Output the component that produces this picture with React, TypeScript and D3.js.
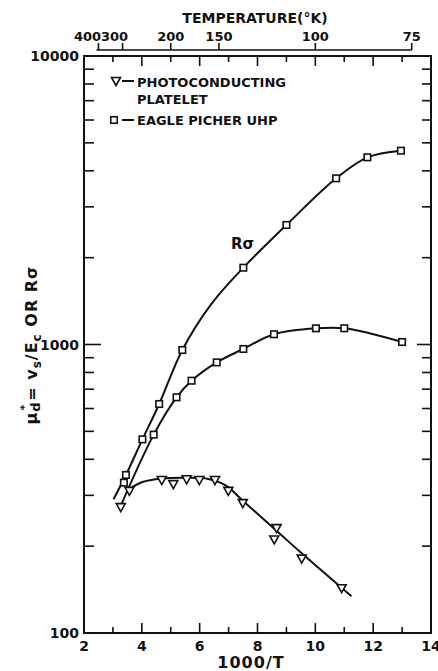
import React, { useEffect, useRef } from 'react';
import * as d3 from 'd3';

// R sigma (upper square curve): markers and drawn curve
const rsigmaX = [3.45, 4.02, 4.6, 5.4, 7.51, 9.0, 10.72, 11.8, 12.96];
const rsigmaY = [353, 469, 622, 957, 1846, 2596, 3767, 4454, 4697];
const rsigmaFitX = [3.02, 3.45, 4.02, 4.6, 5.4, 6.4, 7.51, 9.0, 10.72, 11.8, 12.96];
const rsigmaFitY = [291, 353, 469, 622, 957, 1380, 1846, 2596, 3767, 4454, 4697];

// Eagle Picher UHP (lower square curve)
const eagleX = [3.38, 4.41, 5.2, 5.72, 6.59, 7.51, 8.57, 10.02, 11.0, 13.0];
const eagleY = [332, 487, 656, 749, 867, 965, 1085, 1138, 1138, 1020];
const eagleFitX = [3.27, 4.41, 5.2, 5.72, 6.59, 7.51, 8.57, 10.02, 11.0, 13.0];
const eagleFitY = [276, 487, 656, 749, 867, 965, 1085, 1138, 1138, 1020];

// photoconducting platelet (triangles)
const photoX = [3.27, 3.57, 4.69, 5.09, 5.55, 5.99, 6.53, 6.99, 7.49, 8.66, 8.58, 9.53, 10.91];
const photoY = [273, 311, 339, 328, 341, 339, 339, 311, 282, 231, 211, 181, 143];
const photoFitX = [3.5, 4.0, 4.7, 5.5, 6.3, 6.9, 7.5, 8.6, 9.5, 11.25];
const photoFitY = [312, 333, 343, 345, 342, 325, 287, 229, 190, 134];

const xTicks = [2, 4, 6, 8, 10, 12, 14];
const yTickLabels = ['100', '1000', '10000'];
const tempTicks = [400, 300, 200, 150, 100, 75];

const FONT = '"DejaVu Sans", sans-serif';

export default function App() {
  const ref = useRef<SVGSVGElement>(null);

  useEffect(() => {
    const svg = d3.select(ref.current);
    svg.selectAll('*').remove();

    const x = d3.scaleLinear().domain([2, 14]).range([84, 431]);
    const y = d3.scaleLog().domain([100, 10000]).range([633, 56]);
    const [x0, x1] = x.range();
    const [yb, yt] = y.range();

    const g = svg.append('g').attr('fill', 'none').attr('stroke', '#111');

    // frame
    g.append('rect').attr('x', x0).attr('y', yt).attr('width', x1 - x0).attr('height', yb - yt)
      .attr('stroke-width', 2);

    // x ticks bottom/top
    d3.range(3, 14).forEach(v => {
      const len = v % 2 === 0 ? 10 : 6;
      g.append('line').attr('x1', x(v)).attr('x2', x(v)).attr('y1', yb).attr('y2', yb - len).attr('stroke-width', 1.6);
      g.append('line').attr('x1', x(v)).attr('x2', x(v)).attr('y1', yt).attr('y2', yt + len).attr('stroke-width', 1.6);
    });

    // y ticks left/right
    const yt_vals = [200, 300, 400, 500, 600, 700, 800, 900, 1000, 2000, 3000, 4000, 5000, 6000, 7000, 8000, 9000];
    yt_vals.forEach(v => {
      const major = v === 1000;
      g.append('line').attr('x1', x0).attr('x2', x0 + (major ? 17 : 10)).attr('y1', y(v)).attr('y2', y(v)).attr('stroke-width', 1.6);
      g.append('line').attr('x1', x1).attr('x2', x1 - (major ? 14 : 9)).attr('y1', y(v)).attr('y2', y(v)).attr('stroke-width', 1.6);
    });

    // top temperature bracket
    const tx = (t: number) => x(1000 / t);
    g.append('line').attr('x1', tx(400) - 2).attr('x2', tx(75)).attr('y1', 50).attr('y2', 50).attr('stroke-width', 1.6);
    tempTicks.forEach(t => {
      g.append('line').attr('x1', tx(t)).attr('x2', tx(t)).attr('y1', 50).attr('y2', 43).attr('stroke-width', 1.6);
    });

    const txt = svg.append('g').attr('fill', '#111').style('font-family', FONT).style('font-weight', 'bold');

    tempTicks.forEach(t => {
      const dx = t === 400 ? -11 : t === 300 ? -8 : 0;
      txt.append('text').attr('x', tx(t) + dx).attr('y', 41).attr('text-anchor', 'middle')
        .style('font-size', '13px').text(String(t));
    });
    txt.append('text').attr('x', 255).attr('y', 23).attr('text-anchor', 'middle')
      .style('font-size', '14px').text('TEMPERATURE(°K)');

    // bottom labels
    xTicks.forEach(v => {
      txt.append('text').attr('x', x(v)).attr('y', 651).attr('text-anchor', 'middle')
        .style('font-size', '14px').text(String(v));
    });
    txt.append('text').attr('x', 251).attr('y', 668).attr('text-anchor', 'middle')
      .style('font-size', '16px').style('letter-spacing', '1px').text('1000/T');

    // left labels
    yTickLabels.forEach(s => {
      txt.append('text').attr('x', 79).attr('y', y(+s) + 5).attr('text-anchor', 'end')
        .style('font-size', '14px').text(s);
    });

    // y axis title
    const yl = txt.append('text').attr('transform', 'translate(37,345) rotate(-90)')
      .attr('text-anchor', 'middle').style('font-size', '16px').style('letter-spacing', '1px');
    yl.append('tspan').text('μ');
    yl.append('tspan').attr('dy', 3).style('font-size', '13px').text('d');
    yl.append('tspan').attr('dx', -9).attr('dy', -12).style('font-size', '11px').text('*');
    yl.append('tspan').attr('dx', 3).attr('dy', 9).text('= v');
    yl.append('tspan').attr('dy', 4).style('font-size', '12px').text('s');
    yl.append('tspan').attr('dy', -4).text('/E');
    yl.append('tspan').attr('dy', 4).style('font-size', '12px').text('c');
    yl.append('tspan').attr('dy', -4).text(' OR Rσ');

    // R sigma label
    txt.append('text').attr('x', 231).attr('y', 249).style('font-size', '15px').text('Rσ');

    // curves
    const line = d3.line<[number, number]>().x(d => x(d[0])).y(d => y(d[1])).curve(d3.curveCatmullRom.alpha(0.5));
    const zip = (a: number[], b: number[]) => a.map((v, i) => [v, b[i]] as [number, number]);
    [zip(rsigmaFitX, rsigmaFitY), zip(eagleFitX, eagleFitY), zip(photoFitX, photoFitY)].forEach(pts => {
      g.append('path').attr('d', line(pts)).attr('stroke-width', 2);
    });

    // markers
    const sq = 6.5;
    const m = svg.append('g').attr('fill', '#fff').attr('stroke', '#111').attr('stroke-width', 1.6);
    zip(rsigmaX, rsigmaY).concat(zip(eagleX, eagleY)).forEach(d => {
      m.append('rect').attr('x', x(d[0]) - sq / 2).attr('y', y(d[1]) - sq / 2).attr('width', sq).attr('height', sq);
    });
    const tri = (cx: number, cy: number) => `M${cx - 4.5},${cy - 3.5}L${cx + 4.5},${cy - 3.5}L${cx},${cy + 4.5}Z`;
    zip(photoX, photoY).forEach(d => {
      m.append('path').attr('d', tri(x(d[0]), y(d[1])));
    });

    // legend
    m.append('path').attr('d', tri(116, 81));
    m.append('rect').attr('x', 114 - sq / 2).attr('y', 120 - sq / 2).attr('width', sq).attr('height', sq);
    g.append('line').attr('x1', 122).attr('x2', 134).attr('y1', 81).attr('y2', 81).attr('stroke-width', 2);
    g.append('line').attr('x1', 122).attr('x2', 134).attr('y1', 120).attr('y2', 120).attr('stroke-width', 2);
    txt.append('text').attr('x', 137).attr('y', 87).style('font-size', '13px').text('PHOTOCONDUCTING');
    txt.append('text').attr('x', 137).attr('y', 104).style('font-size', '13px').text('PLATELET');
    txt.append('text').attr('x', 137).attr('y', 125).style('font-size', '13px').text('EAGLE PICHER UHP');
  }, []);

  return (
    <svg ref={ref} width={438} height={671}
      style={{ position: 'absolute', left: 0, top: 0, background: '#fff' }} />
  );
}
